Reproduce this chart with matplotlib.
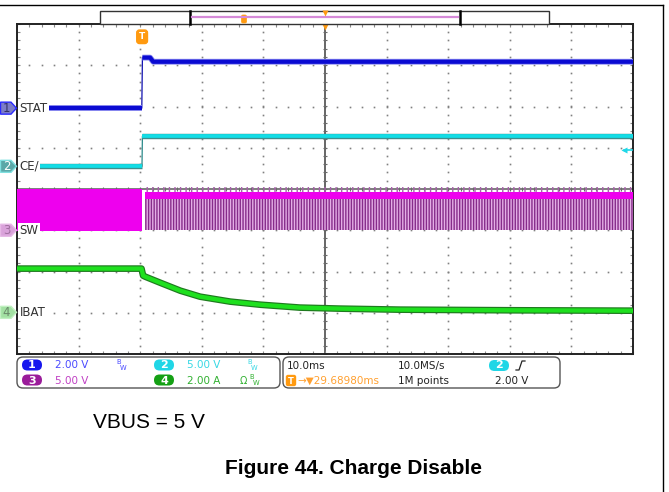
import numpy as np
import matplotlib.pyplot as plt
from matplotlib.patches import Polygon, FancyBboxPatch, Rectangle

plt.rcParams['font.family'] = ['DejaVu Sans']
plt.rcParams['hatch.linewidth'] = 1.0

# scope settings (10 ms/div, trigger 29.69 ms left of screen centre)
trig_pos = -29.6898
ch_names = ['STAT', 'CE/', 'SW', 'IBAT']
ch_scale = [2.0, 5.0, 5.0, 2.0]        # V/div, V/div, V/div, A/div
ch_offset = [1.96, 0.55, -1.0, -2.99]  # div
trig_level = 2.0                        # V on channel 2

# traces, time in ms after the trigger
stat_t = [-15.4, -0.05, 0.05, 1.3, 1.8, 79.7]
stat_v = [0.0, 0.0, 2.45, 2.45, 2.25, 2.25]
ce_t = [-16.7, -0.02, 0.05, 79.7]
ce_v = [0.0, 0.0, 3.65, 3.65]
sw_on_t = [-20.3, 0.05]
sw_on_lo, sw_on_hi = -0.15, 4.95
sw_off_t = [0.4, 79.7]
sw_band_lo, sw_band_hi = 3.8, 4.6
sw_spike = 5.3
sw_pulse_lo = 0.05
ibat_t = [-20.3, -0.1, 0.16, 0.5, 2.9, 6.2, 9.4, 14.3, 19.2, 25.6, 32.1, 41.9, 60.0, 79.7]
ibat_a = [2.12, 2.12, 1.78, 1.73, 1.44, 1.05, 0.76, 0.52, 0.37, 0.23, 0.18, 0.13, 0.10, 0.08]

# layout in pixels
W, H = 669, 492
AX_L, AX_T, AX_W, AX_H = 17, 24, 616, 330
div_h = AX_H / 8.0

fig = plt.figure(figsize=(W / 100, H / 100), dpi=100)
ax = fig.add_axes([AX_L / W, (H - AX_T - AX_H) / H, AX_W / W, AX_H / H], zorder=1)
deco = fig.add_axes([0, 0, 1, 1], zorder=2)
deco.set_xlim(0, W)
deco.set_ylim(H, 0)
deco.axis('off')


def sx(t):
    return np.asarray(t, dtype=float) + trig_pos


def sy(v, ch):
    return ch_offset[ch] + np.asarray(v, dtype=float) / ch_scale[ch]


ax.set_xlim(-50, 50)
ax.set_ylim(-4, 4)
ax.set_xticks(np.arange(-50, 51, 10))
ax.set_xticks(np.arange(-50, 51, 2), minor=True)
ax.set_yticks(np.arange(-4, 5, 1))
ax.set_yticks(np.arange(-4, 4.01, 0.2), minor=True)
ax.tick_params(which='both', direction='in', top=True, right=True,
               labelleft=False, labelbottom=False, length=2.5, width=0.8, color='#888888')
for s in ax.spines.values():
    s.set_color('#222222')
    s.set_linewidth(1.4)

# dotted graticule
xminor = np.arange(-50, 51, 2)
yminor = np.arange(-4, 4.01, 0.2)
for gx in range(-40, 41, 10):
    if gx != 0:
        ax.plot(np.full_like(yminor, gx), yminor, ls='none', marker='s', ms=1.2,
                mec='none', mfc='#808080', zorder=1)
for gy in range(-3, 4):
    if gy != 0:
        ax.plot(xminor, np.full_like(xminor, gy, dtype=float), ls='none', marker='s', ms=1.2,
                mec='none', mfc='#808080', zorder=1)
ax.axhline(0, color='#5a5a5a', lw=1.1, zorder=1)
ax.axvline(0, color='#5a5a5a', lw=1.3, zorder=1)
ax.plot(xminor, np.zeros_like(xminor), ls='none', marker='|', ms=3.5, mew=0.8, color='#6a6a6a', zorder=1)
ax.plot(np.zeros_like(yminor), yminor, ls='none', marker='_', ms=3.5, mew=0.8, color='#6a6a6a', zorder=1)

# SW (channel 3)
ax.fill_between(sx(sw_on_t), sy(sw_on_lo, 2), sy(sw_on_hi, 2), color='#ee00ee', lw=0, zorder=3)
ax.fill_between(sx(sw_off_t), sy(sw_pulse_lo, 2), sy(sw_band_lo, 2), facecolor='#e4aee6',
                edgecolor='#862c8a', hatch='||||||', lw=0, zorder=3)
ax.fill_between(sx(sw_off_t), sy(sw_band_hi, 2), sy(sw_spike, 2), facecolor='none',
                edgecolor='#a860ac', hatch='|||', lw=0, zorder=3)
ax.fill_between(sx(sw_off_t), sy(sw_band_lo, 2), sy(sw_band_hi, 2), color='#ee00ee', lw=0, zorder=4)

# IBAT (channel 4)
ax.plot(sx(ibat_t), sy(ibat_a, 3), color='#1f7a1f', lw=4.8, solid_capstyle='butt', zorder=4)
ax.plot(sx(ibat_t), sy(ibat_a, 3), color='#1ee01e', lw=3.1, solid_capstyle='butt', zorder=4)

# CE/ (channel 2)
ce_t = np.array(ce_t)
ax.plot(sx(ce_t), sy(ce_v, 1), color='#2a8a8a', lw=0.9, zorder=5)
for m in (ce_t < 0, ce_t > 0):
    ax.plot(sx(ce_t[m]), sy(np.array(ce_v)[m], 1), color='#3d8f8f', lw=3.9, solid_capstyle='butt', zorder=5)
    ax.plot(sx(ce_t[m]), sy(np.array(ce_v)[m], 1), color='#12dde6', lw=2.7, solid_capstyle='butt', zorder=5)

# STAT (channel 1)
stat_t = np.array(stat_t)
ax.plot(sx(stat_t), sy(stat_v, 0), color='#1010b0', lw=0.9, zorder=6)
for m in (stat_t < 0, stat_t > 0):
    ax.plot(sx(stat_t[m]), sy(np.array(stat_v)[m], 0), color='#8a8af0', lw=4.2, solid_capstyle='butt', zorder=6)
    ax.plot(sx(stat_t[m]), sy(np.array(stat_v)[m], 0), color='#0a0ad2', lw=3.0, solid_capstyle='butt', zorder=6)

# channel labels
for i, name in enumerate(ch_names):
    ax.text(-49.6, ch_offset[i], name, fontsize=8.5, color='#333333', ha='left', va='center',
            zorder=8, bbox=dict(boxstyle='square,pad=0.1', fc='white', ec='none'))

# trigger markers
ax.text(trig_pos, 3.69, 'T', fontsize=6.5, fontweight='bold', color='white', ha='center', va='center',
        zorder=9, bbox=dict(boxstyle='round,pad=0.25,rounding_size=0.3', fc='#ff9a10', ec='#ff9a10'))
ax.plot(0, 3.95, marker='v', ms=6, color='#ff9a10', mec='none', clip_on=False, zorder=9)
tl_y = sy(trig_level, 1)
ax.plot([48.6, 49.8], [tl_y, tl_y], color='#20d8e8', lw=1.2, zorder=9)
ax.plot(48.6, tl_y, marker='<', ms=4.5, color='#20d8e8', mec='none', zorder=9)

# channel markers on the left
mk_face = ['#7c7cc8', '#5aa8a8', '#d9a2da', '#a2e0a2']
mk_edge = ['#2a2aff', '#7fe0e0', '#e6b8e6', '#c0f0c0']
mk_txt = ['#333366', 'white', '#a070a0', '#6a8a6a']
for i in range(4):
    yp = AX_T + (4 - ch_offset[i]) * div_h
    poly = Polygon([(0.5, yp - 6), (11, yp - 6), (16.5, yp), (11, yp + 6), (0.5, yp + 6)],
                   closed=True, fc=mk_face[i], ec=mk_edge[i], lw=1.0)
    deco.add_patch(poly)
    deco.text(6.5, yp + 0.5, str(i + 1), fontsize=8.5, color=mk_txt[i], ha='center', va='center')

# outer frame
deco.plot([0, 663], [4.5, 4.5], color='black', lw=1.0)
deco.plot([663, 663], [4.5, H], color='black', lw=1.0)

# record overview bar at the top
deco.add_patch(Rectangle((100, 11), 449, 13, fc='white', ec='#333333', lw=1.0))
deco.plot([190, 190], [11, 24], color='black', lw=1.8)
deco.plot([460, 460], [11, 24], color='black', lw=1.8)
deco.plot([192, 458], [16.5, 16.5], color='#d58ad8', lw=1.6)
deco.add_patch(FancyBboxPatch((241.5, 15), 5, 8, boxstyle='round,pad=0,rounding_size=1.5',
                              fc='#ff9a10', ec='#ff9a10', lw=0.5))
deco.plot(325, 12.5, marker='v', ms=5, color='#ff9a10', mec='none')

# info panels
deco.add_patch(FancyBboxPatch((17, 357), 263, 31, boxstyle='round,pad=0,rounding_size=6',
                              fc='white', ec='#555555', lw=1.0))
deco.add_patch(FancyBboxPatch((283, 357), 277, 31, boxstyle='round,pad=0,rounding_size=6',
                              fc='white', ec='#555555', lw=1.0))

oval_col = ['#1616ee', '#20d6e6', '#9a1c9a', '#14a014']
val_col = ['#4a4aff', '#38d8e4', '#c040c4', '#30b030']
val_txt = ['2.00 V', '5.00 V', '5.00 V', '2.00 A']
oval_pos = [(32, 365), (164, 365), (32, 380), (164, 380)]
for i in range(4):
    cx, cy = oval_pos[i]
    deco.add_patch(FancyBboxPatch((cx - 10, cy - 5.5), 20, 11, boxstyle='round,pad=0,rounding_size=5.5',
                                  fc=oval_col[i], ec='none'))
    deco.text(cx, cy + 0.5, str(i + 1), fontsize=8, fontweight='bold', color='white', ha='center', va='center')
    deco.text(cx + 23, cy + 0.5, val_txt[i], fontsize=7.5, color=val_col[i], ha='left', va='center')

# bandwidth-limit symbols
for bx, by, c in [(122, 365, val_col[0]), (253, 365, val_col[1]), (255, 380, val_col[3])]:
    deco.text(bx, by, r'$^{\mathrm{B}}\!_{\mathrm{W}}$', fontsize=7, color=c, ha='center', va='center')
deco.text(243, 380.5, 'Ω', fontsize=7, color=val_col[3], ha='center', va='center')

deco.text(287, 366, '10.0ms', fontsize=7.5, color='#222222', ha='left', va='center')
deco.text(398, 366, '10.0MS/s', fontsize=7.5, color='#222222', ha='left', va='center')
deco.text(398, 381, '1M points', fontsize=7.5, color='#222222', ha='left', va='center')
deco.text(495, 381, '2.00 V', fontsize=7.5, color='#222222', ha='left', va='center')
deco.add_patch(FancyBboxPatch((489, 360), 20, 11, boxstyle='round,pad=0,rounding_size=5.5',
                              fc='#20d6e6', ec='none'))
deco.text(499, 365.5, '2', fontsize=8, fontweight='bold', color='white', ha='center', va='center')
deco.plot([516, 519, 522, 525], [370, 370, 361, 361], color='#222222', lw=0.9)
deco.add_patch(FancyBboxPatch((286.5, 375.5), 9, 10, boxstyle='round,pad=0,rounding_size=1.5',
                              fc='#ff9a10', ec='#ff9a10'))
deco.text(291, 381, 'T', fontsize=6, fontweight='bold', color='white', ha='center', va='center')
deco.text(297, 381, '→▼29.68980ms', fontsize=7.5, color='#ffa030', ha='left', va='center')

# captions
deco.text(93, 423, 'VBUS = 5 V', fontsize=15, family='Liberation Sans', color='black',
          ha='left', va='center')
deco.text(225, 469, 'Figure 44. Charge Disable', fontsize=15, family='Liberation Sans',
          fontweight='bold', color='black', ha='left', va='center')

fig.savefig('out.png', dpi=100)
